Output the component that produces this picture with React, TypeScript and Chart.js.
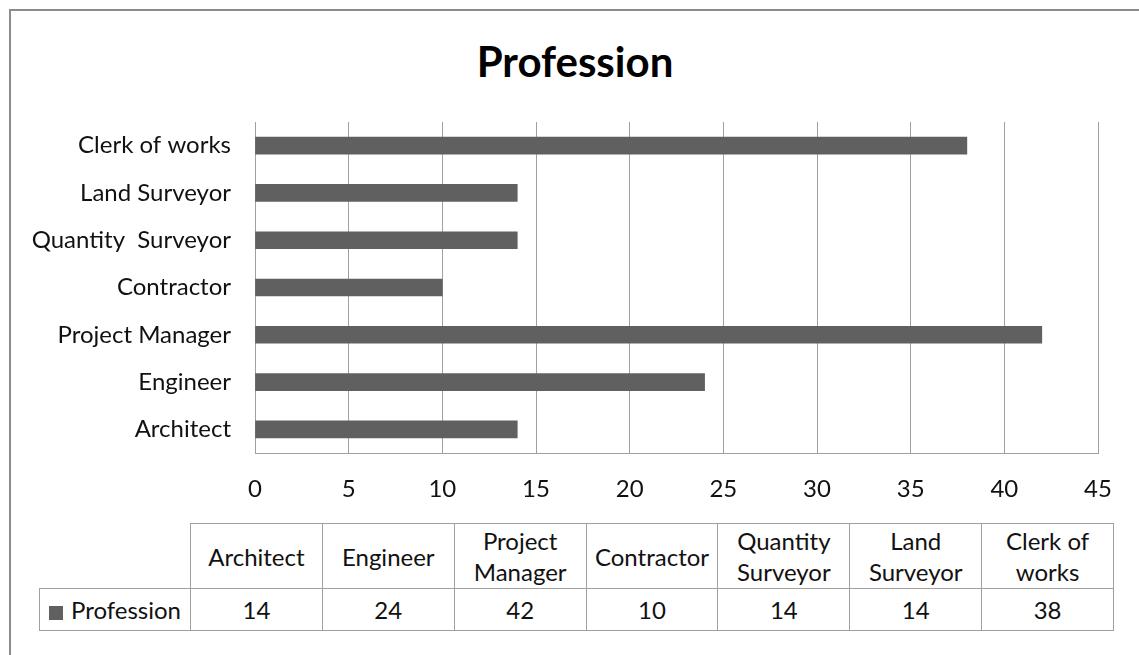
import React, { useEffect, useRef } from "react";
import { Chart, registerables } from "chart.js";

Chart.register(...registerables);

// Categories in table order (bottom-to-top on the bar axis)
const categories = [
  "Architect",
  "Engineer",
  "Project Manager",
  "Contractor",
  "Quantity  Surveyor",
  "Land Surveyor",
  "Clerk of works",
];
const seriesName = "Profession";
const values = [14, 24, 42, 10, 14, 14, 38];
const xTicks = [0, 5, 10, 15, 20, 25, 30, 35, 40, 45];

const FONT = "Lato, 'Open Sans', sans-serif";
const BAR = "#606060";
const GRID = "#a0a0a0";
const TEXT = "#111111";

export default function App() {
  const canvasRef = useRef<HTMLCanvasElement | null>(null);

  useEffect(() => {
    const canvas = canvasRef.current;
    if (!canvas) return;
    const chart = new Chart(canvas, {
      type: "bar",
      data: {
        labels: categories,
        datasets: [
          {
            label: seriesName,
            data: values,
            backgroundColor: BAR,
            borderWidth: 0,
            barThickness: 17,
          },
        ],
      },
      options: {
        animation: false,
        responsive: false,
        indexAxis: "y",
        layout: { padding: { left: 11, right: 41, top: 122, bottom: 0 } },
        plugins: {
          legend: { display: false },
          tooltip: { enabled: false },
          title: { display: false },
        },
        scales: {
          y: {
            type: "category",
            reverse: true,
            grid: { display: false, drawTicks: false },
            border: { display: true, color: GRID, width: 1 },
            ticks: {
              color: TEXT,
              padding: 24,
              font: { family: FONT, size: 24 },
            },
            afterFit: (s: any) => {
              s.width = 244;
            },
          },
          x: {
            type: "linear",
            min: xTicks[0],
            max: xTicks[xTicks.length - 1],
            afterBuildTicks: (s: any) => {
              s.ticks = xTicks.map((v) => ({ value: v }));
            },
            grid: { color: GRID, lineWidth: 1, drawTicks: false },
            border: { display: true, color: GRID, width: 1 },
            ticks: {
              color: TEXT,
              padding: 22,
              maxRotation: 0,
              autoSkip: false,
              font: { family: FONT, size: 24 },
            },
            afterFit: (s: any) => {
              s.height = 60;
              s.paddingLeft = 0;
              s.paddingRight = 0;
            },
          },
        },
      },
    });
    return () => chart.destroy();
  }, []);

  const cellBorder = `1px solid ${GRID}`;
  const cellText: React.CSSProperties = {
    fontFamily: FONT,
    fontSize: 24,
    color: TEXT,
    textAlign: "center",
    padding: "0 4px",
    lineHeight: "31px",
  };

  return (
    <div
      style={{
        position: "fixed",
        left: 0,
        top: 0,
        width: 1139,
        height: 655,
        overflow: "hidden",
        background: "#fff",
      }}
    >
      <div
        style={{
          position: "absolute",
          left: 9,
          top: 9,
          width: 1300,
          height: 800,
          borderLeft: "2px solid #8c8c8c",
          borderTop: "2px solid #8c8c8c",
        }}
      />
      <div
        style={{
          position: "absolute",
          left: 0,
          top: 40,
          width: 1150,
          textAlign: "center",
          fontFamily: FONT,
          fontWeight: "bold",
          fontSize: 42,
          lineHeight: "42px",
          color: "#000",
        }}
      >
        {seriesName}
      </div>
      <canvas
        ref={canvasRef}
        width={1139}
        height={513}
        style={{ position: "absolute", left: 0, top: 0, width: 1139, height: 513 }}
      />
      <table
        style={{
          position: "absolute",
          left: 39,
          top: 523,
          width: 1074,
          borderCollapse: "collapse",
          tableLayout: "fixed",
        }}
      >
        <colgroup>
          <col style={{ width: 151 }} />
          {categories.map((c) => (
            <col key={c} style={{ width: 131.86 }} />
          ))}
        </colgroup>
        <tbody>
          <tr style={{ height: 65 }}>
            <td style={{ border: "none", borderRight: cellBorder, borderBottom: cellBorder }} />
            {categories.map((c) => (
              <td key={c} style={{ ...cellText, border: cellBorder }}>
                {c}
              </td>
            ))}
          </tr>
          <tr style={{ height: 42 }}>
            <td
              style={{
                ...cellText,
                border: cellBorder,
                textAlign: "left",
                paddingLeft: 9,
                whiteSpace: "nowrap",
              }}
            >
              <span
                style={{
                  display: "inline-block",
                  width: 14,
                  height: 14,
                  background: BAR,
                  marginRight: 8,
                  verticalAlign: "-1px",
                }}
              />
              {seriesName}
            </td>
            {values.map((v, i) => (
              <td key={i} style={{ ...cellText, border: cellBorder }}>
                {v}
              </td>
            ))}
          </tr>
        </tbody>
      </table>
    </div>
  );
}
